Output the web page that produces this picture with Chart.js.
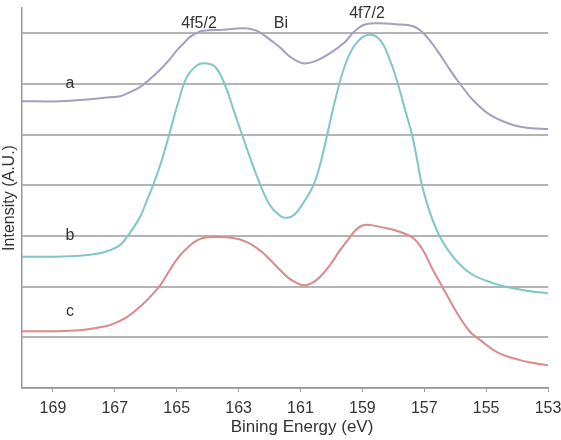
<!DOCTYPE html>
<html>
<head>
<meta charset="utf-8">
<script src="https://cdn.jsdelivr.net/npm/chart.js@4/dist/chart.umd.min.js"></script>
<style>
html,body{margin:0;padding:0;background:#fff;}
#wrap{width:561px;height:440px;position:relative;}
</style>
</head>
<body>
<div id="wrap"><canvas id="c"></canvas></div>
<script>
// ---- data ----
const xTickValues = [169, 167, 165, 163, 161, 159, 157, 155, 153];
const yGridValues = [0, 1, 2, 3, 4, 5, 6, 7];

const energyA = [170.00,168.77,167.80,167.16,166.83,166.51,166.19,165.86,165.54,165.22,164.99,164.73,164.57,164.34,164.15,163.50,162.86,162.57,162.31,161.98,161.66,161.34,160.92,160.53,160.04,159.56,159.30,158.98,158.53,157.94,157.36,157.04,156.59,156.17,155.84,155.42,154.87,154.13,153.58,153.00];
const intensityA = [5.66,5.66,5.70,5.74,5.76,5.84,5.94,6.10,6.28,6.49,6.67,6.83,6.93,7.01,7.05,7.07,7.10,7.08,7.02,6.87,6.72,6.54,6.41,6.45,6.61,6.83,7.01,7.16,7.20,7.18,7.14,7.01,6.67,6.28,6.00,5.68,5.39,5.19,5.13,5.11];

const energyB = [170.00,169.10,168.13,167.48,167.16,166.83,166.61,166.19,165.96,165.77,165.48,165.25,164.96,164.67,164.34,164.09,163.76,163.44,163.18,162.86,162.53,162.24,161.98,161.66,161.44,161.18,160.85,160.59,160.37,160.14,159.88,159.56,159.24,158.82,158.43,158.11,157.85,157.62,157.39,157.23,157.07,156.81,156.49,156.07,155.52,154.78,154.13,153.58,153.00];
const intensityB = [2.59,2.59,2.61,2.66,2.72,2.82,2.98,3.37,3.71,3.99,4.50,4.99,5.62,6.14,6.37,6.41,6.34,5.98,5.52,4.95,4.38,3.92,3.60,3.40,3.36,3.43,3.71,3.99,4.40,4.99,5.68,6.37,6.77,6.97,6.87,6.47,6.00,5.49,4.99,4.50,3.99,3.45,2.98,2.59,2.27,2.07,1.97,1.91,1.87];

const energyC = [170.00,169.10,168.13,167.48,167.16,166.61,166.09,165.86,165.54,165.35,165.12,164.89,164.67,164.41,164.15,163.83,163.18,162.73,162.31,161.98,161.66,161.34,160.92,160.63,160.37,160.04,159.72,159.40,159.14,158.88,158.59,158.11,157.78,157.36,157.04,156.72,156.39,155.94,155.52,155.20,154.65,153.90,153.42,153.00];
const intensityC = [1.12,1.12,1.14,1.20,1.24,1.40,1.66,1.80,2.02,2.20,2.43,2.62,2.76,2.89,2.96,2.98,2.96,2.88,2.72,2.53,2.33,2.15,2.03,2.07,2.19,2.43,2.72,2.98,3.16,3.22,3.20,3.14,3.08,2.96,2.72,2.33,1.97,1.48,1.11,0.95,0.71,0.55,0.49,0.45];

const annotationTexts = ["4f5/2", "Bi", "4f7/2", "a", "b", "c"];
const annotationX = [164.28, 161.63, 158.85, 168.45, 168.45, 168.45];
const annotationY = [7.20, 7.20, 7.38, 6.00, 3.00, 1.50];

const xTitle = "Bining Energy (eV)";
const yTitle = "Intensity (A.U.)";

function pts(xs, ys){ return xs.map((x,i)=>({x:x, y:ys[i]})); }

const labelPlugin = {
  id: 'labels',
  afterDatasetsDraw(chart){
    const ctx = chart.ctx, xs = chart.scales.x, ys = chart.scales.y;
    ctx.save();
    ctx.fillStyle = '#333';
    ctx.font = '16px "Liberation Sans", Arial, sans-serif';
    ctx.textAlign = 'center';
    ctx.textBaseline = 'middle';
    annotationTexts.forEach((t,i)=>{
      ctx.fillText(t, xs.getPixelForValue(annotationX[i]), ys.getPixelForValue(annotationY[i]));
    });
    // x axis title
    ctx.font = '17px "Liberation Sans", Arial, sans-serif';
    ctx.fillText(xTitle, xs.getPixelForValue(160.95), 427);
    ctx.restore();
  }
};

const common = {borderWidth:2, pointRadius:0, tension:0.4, fill:false};

new Chart(document.getElementById('c'), {
  type: 'line',
  data: {
    datasets: [
      Object.assign({label:'a', data: pts(energyA, intensityA), borderColor:'#a49ec0'}, common),
      Object.assign({label:'b', data: pts(energyB, intensityB), borderColor:'#7ec6ca'}, common),
      Object.assign({label:'c', data: pts(energyC, intensityC), borderColor:'#d98a8a'}, common)
    ]
  },
  options: {
    responsive: true,
    maintainAspectRatio: false,
    animation: false,
    devicePixelRatio: 1,
    layout: {padding: {top: 8, right: 13, left: 0, bottom: 0}},
    plugins: {legend: {display:false}, tooltip: {enabled:false}},
    scales: {
      x: {
        type: 'linear',
        reverse: true,
        min: 153,
        max: 170,
        afterBuildTicks: s => { s.ticks = xTickValues.map(v=>({value:v})); },
        afterFit: s => { s.height = 52; s.paddingLeft = 0; s.paddingRight = 0; },
        grid: {drawOnChartArea:false, drawTicks:true, tickLength:4, color:'#999', lineWidth:1},
        border: {display:true, color:'#999', width:1.5},
        ticks: {color:'#333', font:{family:'"Liberation Sans", Arial, sans-serif', size:16}, padding:7, maxRotation:0, autoSkip:false},
        title: {display:false}
      },
      y: {
        type: 'linear',
        min: 0,
        max: 7.5,
        afterBuildTicks: s => { s.ticks = yGridValues.map(v=>({value:v})); },
        afterFit: s => { s.width = 22; s.paddingTop = 0; s.paddingBottom = 0; },
        grid: {drawTicks:false, color:'#b4b4b4', lineWidth:2},
        border: {display:true, color:'#999', width:1.5},
        ticks: {display:false},
        title: {display:true, text: yTitle, color:'#333', font:{family:'"Liberation Sans", Arial, sans-serif', size:16}, padding:0}
      }
    }
  },
  plugins: [labelPlugin]
});
</script>
</body>
</html>
